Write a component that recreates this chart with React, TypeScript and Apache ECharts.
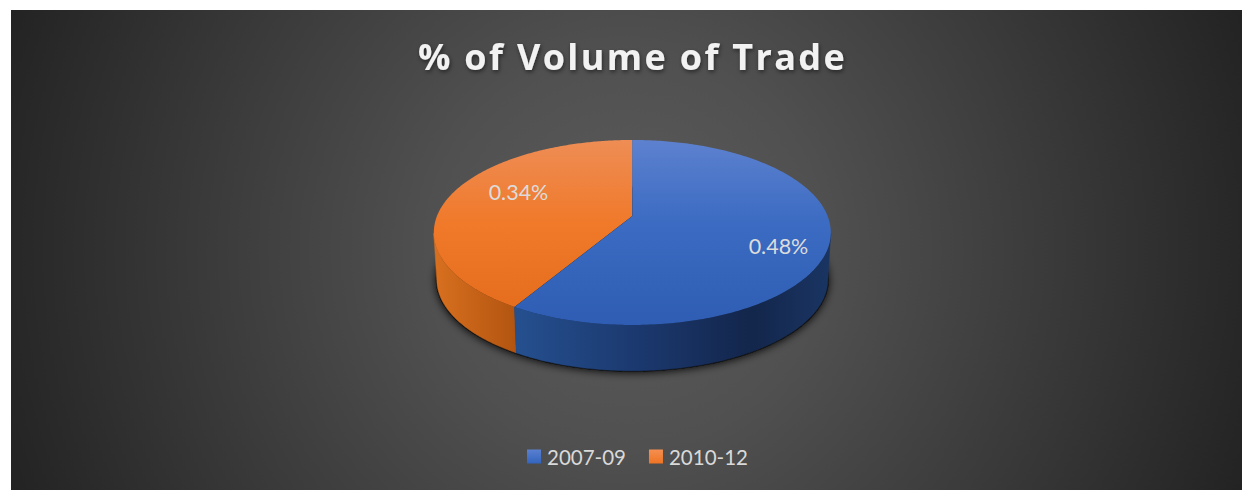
import React, { useEffect, useRef } from "react";
import * as echarts from "echarts";

const chartTitle = "% of Volume of Trade";
const periods = ["2007-09", "2010-12"];
const volumeShare = [0.48, 0.34];

const WIDTH = 1242;
const HEIGHT = 490;

// Perspective disc: apex of the slices, projected radii, perspective strength, wall depth
const APEX_X = 632.3;
const APEX_Y = 216;
const RADIUS_X = 195.3;
const RADIUS_Y = 89.6;
const PERSPECTIVE = 0.178;
const BASE_SCALE = 0.985;
const BASE_DROP = 47.1;
const MID_Y = 232;

const total = volumeShare.reduce((a, b) => a + b, 0);

function rimPoint(theta: number): number[] {
  const u = Math.sin(theta);
  const v = -Math.cos(theta);
  const w = 1 - PERSPECTIVE * v;
  return [APEX_X + (RADIUS_X * u) / w, APEX_Y + (RADIUS_Y * v) / w];
}
function basePoint(p: number[]): number[] {
  return [
    APEX_X + (p[0] - APEX_X) * BASE_SCALE,
    MID_Y + (p[1] - MID_Y) * BASE_SCALE + BASE_DROP,
  ];
}
const vGrad = (stops: [number, string][]) =>
  new echarts.graphic.LinearGradient(0, 140, 0, 325, stops.map(([offset, color]) => ({ offset, color })), true as any);
const hGrad = (x0: number, x1: number, stops: [number, string][]) =>
  new echarts.graphic.LinearGradient(x0, 0, x1, 0, stops.map(([offset, color]) => ({ offset, color })), true as any);

const topFills = [
  vGrad([[0, "#5d81cf"], [0.45, "#3b6bc2"], [1, "#2e5db3"]]),
  vGrad([[0, "#ee8d55"], [0.45, "#f0792a"], [1, "#e36b1b"]]),
];
const sideFills = [
  hGrad(514, 831, [[0, "#25508f"], [0.4, "#1b386e"], [0.75, "#13264b"], [1, "#1a3563"]]),
  hGrad(434, 517, [[0, "#d8701f"], [1, "#b25410"]]),
];
const legendFills = [
  new echarts.graphic.LinearGradient(0, 0, 0, 1, [{ offset: 0, color: "#5a80d0" }, { offset: 1, color: "#3364be" }]),
  new echarts.graphic.LinearGradient(0, 0, 0, 1, [{ offset: 0, color: "#f58f50" }, { offset: 1, color: "#ef7424" }]),
];
const labelAnchors = [
  [778.5, 246],
  [518.5, 192],
];

function sliceRenderer(index: number) {
  return (_params: any, api: any) => {
    const value = api.value(0) as number;
    const before = volumeShare.slice(0, index).reduce((a, b) => a + b, 0);
    const start = (before / total) * Math.PI * 2;
    const end = start + (value / total) * Math.PI * 2;
    const top: number[][] = [[APEX_X, APEX_Y]];
    const frontRim: number[][] = [];
    const steps = 240;
    for (let i = 0; i <= steps; i++) {
      const t = start + ((end - start) * i) / steps;
      top.push(rimPoint(t));
      if (-Math.cos(t) >= PERSPECTIVE) frontRim.push(rimPoint(t));
    }
    const wall = frontRim.concat(frontRim.map(basePoint).reverse());
    return {
      type: "group",
      children: [
        { type: "polygon", shape: { points: wall }, style: { fill: sideFills[index], stroke: sideFills[index], lineWidth: 0.5 } },
        { type: "polygon", shape: { points: top }, style: { fill: topFills[index] } },
        {
          type: "text",
          x: labelAnchors[index][0],
          y: labelAnchors[index][1],
          z2: 10,
          style: {
            text: `${value}%`,
            fill: "#dcdcdc",
            font: "21.5px Lato",
            align: "center",
            verticalAlign: "middle",
          },
        },
      ],
    };
  };
}

function shadowRenderer() {
  const rim: number[][] = [];
  for (let i = 0; i < 240; i++) rim.push(basePoint(rimPoint((i / 240) * Math.PI * 2)));
  return {
    type: "polygon",
    shape: { points: rim },
    style: { fill: "#0c0c0c", stroke: "#0c0c0c", lineWidth: 2, shadowColor: "rgba(0,0,0,0.9)", shadowBlur: 8, shadowOffsetY: 1 },
  };
}

export default function App() {
  const ref = useRef<HTMLDivElement>(null);
  useEffect(() => {
    const chart = echarts.init(ref.current!, undefined, { renderer: "svg", width: WIDTH, height: HEIGHT });
    chart.setOption({
      animation: false,
      backgroundColor: "#ffffff",
      title: {
        text: chartTitle,
        left: 627.5,
        top: 33,
        textAlign: "center",
        textStyle: {
          fontFamily: "Open Sans",
          fontWeight: "bold",
          fontSize: 36,
          color: "#f2f2f2",
          textShadowColor: "rgba(0,0,0,0.5)",
          textShadowBlur: 4,
          textShadowOffsetX: 1,
          textShadowOffsetY: 2,
        },
      },
      legend: {
        left: 527,
        top: 446,
        padding: 0,
        icon: "rect",
        itemWidth: 14,
        itemHeight: 14,
        itemGap: 23,
        selectedMode: false,
        textStyle: { color: "#d9d9d9", fontFamily: "Lato", fontSize: 20.5, padding: [0, 0, 0, 1] },
        data: periods.map((name, i) => ({ name, itemStyle: { color: legendFills[i] } })),
      },
      graphic: [
        {
          type: "rect",
          z: 0,
          shape: { x: 11, y: 10, width: WIDTH - 11, height: HEIGHT - 10 },
          style: {
            fill: new echarts.graphic.RadialGradient(
              626, 250, 660,
              [
                { offset: 0, color: "#5c5c5c" },
                { offset: 0.3, color: "#505050" },
                { offset: 1, color: "#232323" },
              ],
              true as any
            ),
          },
        },
      ],
      series: [
        {
          type: "custom",
          name: "wall shadow",
          coordinateSystem: "none",
          silent: true,
          z: 1,
          data: [[total]],
          renderItem: shadowRenderer,
        },
        ...[1, 0].map((i) => ({
          type: "custom",
          name: periods[i],
          coordinateSystem: "none",
          silent: true,
          z: 2 + (1 - i),
          itemStyle: { color: legendFills[i] },
          data: [[volumeShare[i]]],
          renderItem: sliceRenderer(i),
        })),
      ],
    });
    ref.current!.querySelectorAll("text").forEach((t) => {
      if (t.textContent === chartTitle) (t as any).style.letterSpacing = "2.35px";
    });
    return () => chart.dispose();
  }, []);
  return (
    <div
      ref={ref}
      style={{ position: "fixed", left: 0, top: 0, width: WIDTH, height: HEIGHT }}
    />
  );
}
